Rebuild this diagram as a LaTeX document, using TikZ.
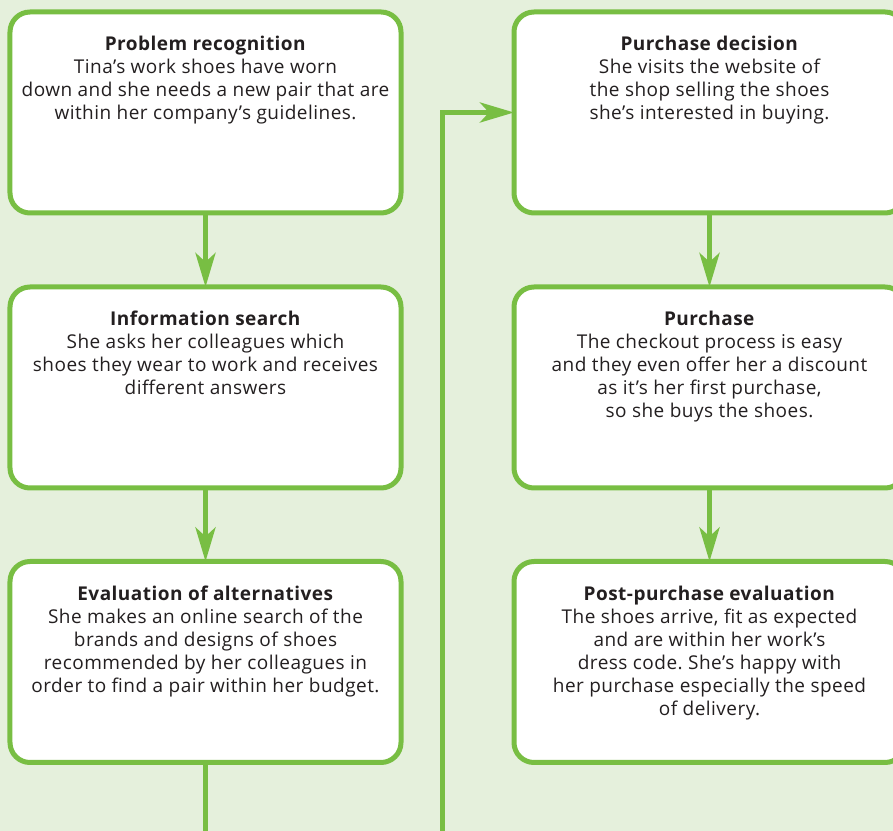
\documentclass[tikz,border=0pt]{standalone}
\usepackage{fontspec}
\setmainfont{Open Sans}[LetterSpace=2.5]
\usetikzlibrary{arrows.meta}
\definecolor{bggreen}{RGB}{229,240,220}
\definecolor{linegreen}{RGB}{120,190,67}
\definecolor{txt}{RGB}{35,31,32}
\tikzset{
  x=1bp,y=1bp,
  stagebox/.style={draw=linegreen,line width=5bp,fill=white,rounded corners=20bp,
    minimum width=391bp,minimum height=201bp,inner sep=0pt,outer sep=0pt},
  stagetext/.style={anchor=north,align=center,inner sep=0pt,text=txt,
    font=\fontsize{19bp}{23bp}\selectfont\frenchspacing,yshift=-24bp},
  conn/.style={draw=linegreen,line width=5bp,
    -{Stealth[length=34bp,width=20bp,inset=9bp]}}
}
\begin{document}
\begin{tikzpicture}
\useasboundingbox (0,0) rectangle (893,831);
\fill[bggreen] (0,0) rectangle (893,831);
\clip (0,0) rectangle (893,831);
% boxes
\node[stagebox] (b1) at (205.5,718.5) {};
\node[stagebox] (b2) at (205.5,443.5) {};
\node[stagebox] (b3) at (205.5,169) {};
\node[stagebox] (b4) at (709.5,718.5) {};
\node[stagebox] (b5) at (709.5,443.5) {};
\node[stagebox] (b6) at (709.5,169) {};
% texts
\node[stagetext] (t1) at (b1.north) {\textbf{Problem recognition}\\Tina’s work shoes have worn\\down and she needs a new pair that are\\within her company’s guidelines.};
\node[stagetext] (t2) at (b2.north) {\textbf{Information search}\\She asks her colleagues which\\shoes they wear to work and receives\\different answers};
\node[stagetext] (t3) at (b3.north) {\textbf{Evaluation of alternatives}\\She makes an online search of the\\brands and designs of shoes\\recommended by her colleagues in\\order to find a pair within her budget.};
\node[stagetext] (t4) at (b4.north) {\textbf{Purchase decision}\\She visits the website of\\the shop selling the shoes\\she’s interested in buying.};
\node[stagetext] (t5) at (b5.north) {\textbf{Purchase}\\The checkout process is easy\\and they even offer her a discount\\as it’s her first purchase,\\so she buys the shoes.};
\node[stagetext] (t6) at (b6.north) {\textbf{Post-purchase evaluation}\\The shoes arrive, fit as expected\\and are within her work’s\\dress code. She’s happy with\\her purchase especially the speed\\of delivery.};
% connectors
\draw[conn] (b1.south) -- (b2.north);
\draw[conn] (b2.south) -- (b3.north);
\draw[conn] (b4.south) -- (b5.north);
\draw[conn] (b5.south) -- (b6.north);
\coordinate (lowL) at (205.5,-60);
\coordinate (lowR) at (442,-60);
\draw[conn] (b3.south) -- (lowL) -- (lowR) |- (b4.west);
\end{tikzpicture}
\end{document}
